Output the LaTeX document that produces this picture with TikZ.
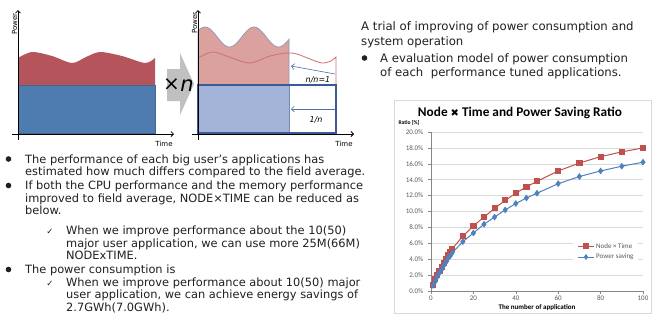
\documentclass[tikz,border=0pt]{standalone}
\usepackage{fontspec}
\setmainfont{DejaVu Sans}
\newfontfamily\chartfont{Carlito}
\newfontfamily\symfont{DejaVu Sans}
\usetikzlibrary{arrows.meta,plotmarks}
\definecolor{redfill}{HTML}{B5545A}
\definecolor{bluefill}{HTML}{4F7CB0}
\definecolor{blueborder}{HTML}{3E6796}
\definecolor{pinkfill}{HTML}{DBA19E}
\definecolor{pinkline}{HTML}{8C98B8}
\definecolor{lightblue}{HTML}{A4B3D8}
\definecolor{framecol}{HTML}{3B5C93}
\definecolor{innerred}{HTML}{CF7070}
\definecolor{arrowblue}{HTML}{4C72A8}
\definecolor{grayarrow}{HTML}{C0C0C0}
\definecolor{cred}{HTML}{C0504D}
\definecolor{cblue}{HTML}{4F81BD}
\definecolor{gridc}{HTML}{D9D9D9}
\definecolor{axisc}{HTML}{868686}
\definecolor{tickc}{HTML}{595959}
\definecolor{txt}{HTML}{202020}
\begin{document}
\begin{tikzpicture}[x=1pt,y=-1pt,
  body/.style={anchor=base west, inner sep=0, text=txt, font=\fontsize{11.4}{13}\selectfont},
  rbody/.style={anchor=base west, inner sep=0, text=txt, font=\fontsize{11.7}{14}\selectfont},
  chk/.style={anchor=base, inner sep=0, text=txt, font=\fontsize{8.5}{10}\selectfont},
  smalllab/.style={inner sep=0, font=\fontsize{7}{8}\selectfont},
  axisarrow/.style={line width=0.8pt, -{Straight Barb[length=2.5pt,width=5pt]}},
  ticklab/.style={inner sep=0, text=tickc, font=\chartfont\fontsize{7}{8}\selectfont},
  boldlab/.style={inner sep=0, text=black, font=\chartfont\bfseries\fontsize{7}{8}\selectfont},
  thinarrow/.style={arrowblue, line width=0.6pt, -{Straight Barb[length=3pt,width=6pt]}},
  italab/.style={inner sep=0, font=\itshape\fontsize{8}{9}\selectfont}]
\useasboundingbox (0,0) rectangle (652,325);
\fill[white] (0,0) rectangle (652,325);

% ---------- left chart ----------
\fill[redfill] (18,85) -- plot[smooth] coordinates {(18,58) (32,52) (52,56) (72,63) (86,57) (100,52) (122,56) (145,63) (155,58)} -- (155,85) -- cycle;
\filldraw[fill=bluefill, draw=blueborder, line width=0.8pt] (18,85) rectangle (155,133);
\draw[axisarrow] (18,140) -- (18,10);
\draw[axisarrow] (12,134) -- (174,134);
\node[smalllab, rotate=90] (pw1) at (14.5,24) {Power};
\node[smalllab] (tm1) at (164,144) {Time};

% ---------- x n arrow ----------
\fill[grayarrow] (167,69) -- (180,69) -- (180,53) -- (194,84) -- (180,115) -- (180,101) -- (167,101) -- cycle;
\node[inner sep=0, font=\fontsize{20}{20}\selectfont] (times) at (171.5,85) {×};
\node[inner sep=0, font=\itshape\fontsize{21}{21}\selectfont] (nn) at (187,86) {n};

% ---------- right chart ----------
\filldraw[fill=pinkfill, draw=pinkline, line width=0.7pt] (198,85) -- plot[domain=198:289, samples=60] (\x, {37-10*cos((\x-205)/49*360)}) -- (289,85);
\draw[innerred, line width=0.8pt] plot[smooth] coordinates {(198,58) (213,52) (232,58) (250,63) (270,56) (287,53) (297,54) (310,59) (322,63) (331,61) (336,57)} -- (336,85);
\filldraw[fill=lightblue, draw=framecol!70, line width=0.6pt] (198,85) rectangle (289,133);
\draw[framecol, line width=1.5pt] (198,85) rectangle (336,133);
\coordinate (a1s) at (335,74);
\coordinate (a1e) at (291,66);
\coordinate (a2s) at (335,109);
\coordinate (a2e) at (291,109);
\draw[thinarrow] (a1s) -- (a1e);
\draw[thinarrow] (a2s) -- (a2e);
\node[italab] (nn1) at (318,80) {n/n=1};
\node[italab] (onen) at (316,120) {1/n};
\draw[axisarrow] (198,140) -- (198,10);
\draw[axisarrow] (192,134) -- (354,134);
\node[smalllab, rotate=90] (pw2) at (194.5,23) {Power};
\node[smalllab] (tm2) at (344,144) {Time};

% ---------- right text ----------
\node[rbody] (r1) at (361,30) {A trial of improving of power consumption and};
\node[rbody] (r2) at (361,45) {system operation};
\fill[txt] (364.5,58) circle (2.8);
\node[rbody] (r3) at (380,62) {A evaluation model of power consumption};
\node[rbody] (r4) at (380,76.5) {of each\ \ performance tuned applications.};

% ---------- left text ----------
\fill[txt] (8.5,159) circle (2.8);
\node[body] (l1) at (25,163) {The performance of each big user’s applications has};
\node[body] (l2) at (25,175.7) {estimated how much differs compared to the field average.};
\fill[txt] (8.5,185.5) circle (2.8);
\node[body] (l3) at (25,189.5) {If both the CPU performance and the memory performance};
\node[body] (l4) at (25,202.2) {improved to field average, NODE×TIME can be reduced as};
\node[body] (l5) at (25,214.9) {below.};
\node[chk] (c1) at (50,234.5) {✓};
\node[body] (l6) at (66,234.5) {When we improve performance about the 10(50)};
\node[body] (l7) at (66,247.2) {major user application, we can use more 25M(66M)};
\node[body] (l8) at (66,259.9) {NODExTIME.};
\fill[txt] (8.5,269.5) circle (2.8);
\node[body] (l9) at (25,273.5) {The power consumption is};
\node[chk] (c2) at (50,286.2) {✓};
\node[body] (l10) at (66,286.2) {When we improve performance about 10(50) major};
\node[body] (l11) at (66,298.9) {user application, we can achieve energy savings of};
\node[body] (l12) at (66,311.6) {2.7GWh(7.0GWh).};

% ---------- line chart ----------
\draw[gridc, line width=0.8pt] (394,100) rectangle (651.5,313);
\node[inner sep=0, font=\chartfont\bfseries\fontsize{13.3}{15}\selectfont] (title) at (520,113) {Node {\symfont\fontsize{10}{10}\selectfont ✖} Time and Power Saving Ratio};
\node[boldlab, font=\chartfont\bfseries\fontsize{5.5}{6}\selectfont] (ratio) at (409,123) {Ratio [\%]};
\begin{scope}[shift={(431,291)}, x=2.12pt, y=7.95pt]
  \foreach \p in {2,4,...,20} \draw[gridc, line width=0.6pt] (0,\p) -- (100,\p);
  \fill[white] (67,3.3) rectangle (97.5,6.7);
  \draw[axisc, line width=0.6pt] (0,0) -- (100,0);
  \draw[axisc, line width=0.6pt] (0,0) -- (0,20);
  \foreach \v in {0,20,...,100} {
    \draw[axisc, line width=0.6pt] (\v,0) -- ++(0,-0.35);
    \node[ticklab, anchor=north] (xl\v) at (\v,-0.6) {\v};
  }
  \foreach \p in {0,2,...,20} {
    \draw[axisc, line width=0.6pt] (0,\p) -- ++(-1.2,0);
    \node[ticklab, anchor=east] (yl\p) at (-3.6,\p) {\p.0\%};
  }
  \draw[cred, line width=1pt] plot[mark=square*, mark size=2.6pt, mark options={fill=cred, draw=cred}] coordinates {(1,0.8)(2,1.5)(3,2.0)(4,2.5)(5,3.0)(6,3.5)(7,4.0)(8,4.5)(9,4.9)(10,5.3)(15,6.9)(20,8.2)(25,9.3)(30,10.4)(35,11.4)(40,12.3)(45,13.1)(50,13.8)(60,15.1)(70,16.1)(80,16.9)(90,17.5)(100,18.0)};
  \draw[cblue, line width=1pt] plot[mark=diamond*, mark size=2.6pt, mark options={fill=cblue, draw=cblue}] coordinates {(1,0.7)(2,1.2)(3,1.8)(4,2.3)(5,2.7)(6,3.2)(7,3.6)(8,4.1)(9,4.4)(10,4.8)(15,6.2)(20,7.3)(25,8.4)(30,9.3)(35,10.2)(40,11.0)(45,11.7)(50,12.3)(60,13.5)(70,14.4)(80,15.1)(90,15.7)(100,16.2)};
  \node[boldlab] (xlab) at (50,-2.1) {The number of application};
\end{scope}
% legend
\draw[cred, line width=1pt] (578,246) -- (594,246);
\path plot[mark=square*, mark size=2.6pt, mark options={fill=cred, draw=cred}] coordinates {(586,246)};
\node[ticklab, anchor=west] (leg1) at (596,246) {Node × Time};
\draw[cblue, line width=1pt] (578,257) -- (594,257);
\path plot[mark=diamond*, mark size=2.6pt, mark options={fill=cblue, draw=cblue}] coordinates {(586,257)};
\node[ticklab, anchor=west] (leg2) at (596,257) {Power saving};
\end{tikzpicture}
\end{document}
